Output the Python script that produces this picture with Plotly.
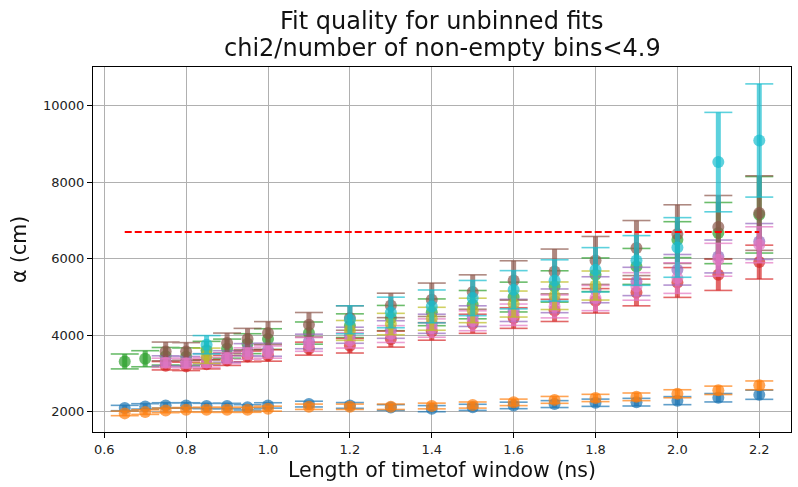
import numpy as np
import plotly.graph_objects as go

# Length of the time-of-flight window (ns)
window_ns = [0.65, 0.7, 0.75, 0.8, 0.85, 0.9, 0.95, 1.0, 1.1, 1.2,
             1.3, 1.4, 1.5, 1.6, 1.7, 1.8, 1.9, 2.0, 2.1, 2.2]

# Fitted attenuation length alpha (cm) and its uncertainty, one list per fit configuration
alpha_blue = [2097, 2140, 2165, 2165, 2150, 2150, 2115, 2165, 2200, 2165,
              2110, 2080, 2115, 2165, 2200, 2235, 2250, 2290, 2366, 2444]
err_blue = [70, 70, 70, 70, 70, 70, 70, 70, 75, 75,
            75, 80, 80, 85, 90, 95, 100, 105, 110, 120]

alpha_orange = [1957, 1990, 2035, 2050, 2050, 2050, 2050, 2080, 2130, 2130,
                2130, 2150, 2175, 2245, 2310, 2360, 2390, 2470, 2560, 2690]
err_orange = [60, 60, 60, 60, 65, 65, 65, 65, 70, 70,
              70, 75, 80, 85, 90, 95, 100, 105, 110, 115]

alpha_green = [3315, 3386, 3450, 3440, 3600, 3650, 3780, 3900, 4057, 4250,
               4450, 4600, 4800, 4999, 5276, 5582, 5800, 6500, 6672, 7150]
err_green = [195, 210, 230, 230, 240, 250, 260, 270, 290, 310,
             330, 350, 370, 390, 410, 440, 470, 470, 800, 1000]

alpha_red = [None, None, 3203, 3186, 3240, 3341, 3446, 3472, 3650, 3725,
             3900, 4100, 4300, 4450, 4650, 4900, 5119, 5380, 5582, 5913]
err_red = [None, None, 110, 110, 120, 130, 140, 150, 170, 190,
           210, 230, 250, 270, 290, 320, 350, 390, 410, 443]

alpha_purple = [None, None, 3333, 3316, 3380, 3446, 3621, 3621, 3838, 4000,
                4150, 4300, 4500, 4650, 4900, 5190, 5407, 5712, 6060, 6452]
err_purple = [None, None, 130, 130, 140, 150, 160, 170, 190, 210,
              230, 250, 270, 290, 310, 340, 370, 400, 430, 470]

alpha_brown = [None, None, 3577, 3577, None, 3795, 3900, 4057, 4275, 4450,
               4780, 4928, 5130, 5433, 5668, 5956, 6280, 6645, 6828, 7195]
err_brown = [None, None, 245, 230, None, 262, 280, 300, 320, 320,
             320, 437, 450, 515, 586, 627, 720, 767, 827, 975]

alpha_pink = [None, None, 3280, 3270, 3290, 3400, 3520, 3560, 3760, 3865,
              4031, 4188, 4379, 4536, 4754, 4973, 5276, 5495, 5974, 6366]
err_pink = [None, None, 120, 120, 130, 140, 150, 160, 180, 200,
            220, 240, 260, 280, 300, 330, 360, 400, 430, 470]

alpha_olive = [None, None, None, None, 3464, None, None, None, None, 4126,
               4293, 4431, 4649, 4816, 5033, 5300, None, None, None, None]
err_olive = [None, None, None, None, 200, None, None, None, None, 260,
             280, 300, 320, 340, 360, 380, None, None, None, None]

alpha_cyan = [None, None, None, None, 3752, None, None, None, None, 4405,
              4596, 4754, 4973, 5190, 5433, 5712, 5956, 6296, 8528, 9093]
err_cyan = [None, None, None, None, 240, None, None, None, None, 366,
            400, 430, 460, 500, 540, 580, 650, 780, 1300, 1480]

# Reference attenuation length drawn as a dashed line
alpha_reference = 6700

title_lines = ["Fit quality for unbinned fits",
               "chi2/number of non-empty bins<4.9"]

series = [
    (alpha_blue, err_blue, "#1f77b4"),
    (alpha_orange, err_orange, "#ff7f0e"),
    (alpha_green, err_green, "#2ca02c"),
    (alpha_red, err_red, "#d62728"),
    (alpha_purple, err_purple, "#9467bd"),
    (alpha_brown, err_brown, "#8c564b"),
    (alpha_pink, err_pink, "#e377c2"),
    (alpha_olive, err_olive, "#bcbd22"),
    (alpha_cyan, err_cyan, "#17becf"),
]

OPACITY = 0.7
fig = go.Figure()

for vals, errs, color in series:
    y = np.array([np.nan if v is None else v for v in vals], dtype=float)
    e = np.array([np.nan if v is None else v for v in errs], dtype=float)
    # thick vertical error bar
    fig.add_trace(go.Scatter(
        x=window_ns, y=y, mode="markers",
        marker=dict(size=0.1, color=color, opacity=0),
        error_y=dict(type="data", array=e, visible=True, color=color,
                     thickness=5, width=0),
        opacity=OPACITY, showlegend=False, hoverinfo="skip",
    ))
    # thin caps at both ends of the bar
    fig.add_trace(go.Scatter(
        x=list(window_ns) + list(window_ns),
        y=np.concatenate([y + e, y - e]),
        mode="markers",
        marker=dict(symbol="line-ew", size=20,
                    line=dict(color=color, width=1.6)),
        opacity=OPACITY, showlegend=False, hoverinfo="skip",
    ))
    # central marker
    fig.add_trace(go.Scatter(
        x=window_ns, y=y, mode="markers",
        marker=dict(size=12, color=color, line=dict(width=0)),
        opacity=OPACITY, showlegend=False,
    ))

fig.add_trace(go.Scatter(
    x=[window_ns[0], window_ns[-1]], y=[alpha_reference, alpha_reference],
    mode="lines", line=dict(color="red", width=2, dash="7px,3px"),
    showlegend=False, hoverinfo="skip",
))

axis_common = dict(
    showgrid=True, gridcolor="#b0b0b0", gridwidth=1,
    showline=True, linecolor="black", linewidth=1.2, mirror=True,
    ticks="outside", ticklen=5, tickcolor="black", tickwidth=1,
    zeroline=False,
    tickfont=dict(family="DejaVu Sans", size=13, color="#222"),
)

# two-line title above the plot area
for line, ypix in zip(title_lines, [21, 48]):
    fig.add_annotation(
        text=line, showarrow=False,
        xref="paper", x=0.5, xanchor="center",
        yref="paper", y=1 + (67 - ypix) / 365, yanchor="middle",
        font=dict(family="DejaVu Sans", size=24, color="#111"),
    )

fig.update_layout(
    width=798, height=487,
    margin=dict(l=93, r=7, t=67, b=55),
    paper_bgcolor="white", plot_bgcolor="white",
    xaxis=dict(
        axis_common,
        range=[0.5725, 2.2775],
        tickvals=[0.6, 0.8, 1.0, 1.2, 1.4, 1.6, 1.8, 2.0, 2.2],
        ticktext=["0.6", "0.8", "1.0", "1.2", "1.4", "1.6", "1.8", "2.0", "2.2"],
        title=dict(text="Length of timetof window (ns)",
                   font=dict(family="DejaVu Sans", size=20.5, color="#111"),
                   standoff=6),
    ),
    yaxis=dict(
        axis_common,
        range=[1470, 11015],
        tickvals=[2000, 4000, 6000, 8000, 10000],
        ticktext=["2000", "4000", "6000", "8000", "10000"],
        title=dict(text="α (cm)",
                   font=dict(family="DejaVu Sans", size=20.5, color="#111"),
                   standoff=10),
    ),
)

fig.write_html("out.html")
